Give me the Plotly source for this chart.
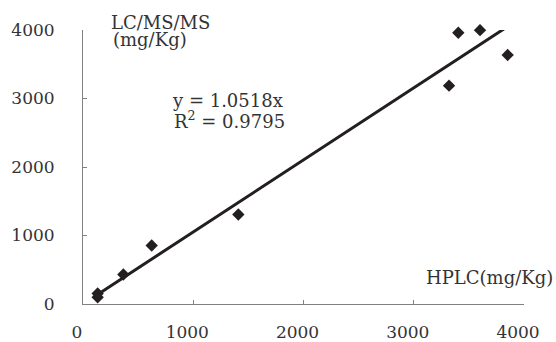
import plotly.graph_objects as go

# Data
hplc = [133, 133, 366, 623, 1409, 3320, 3404, 3601, 3852]
lcmsms = [99, 153, 431, 854, 1307, 3187, 3960, 3998, 3635]
slope = 1.0518
r2 = 0.9795
x_ticks = [0, 1000, 2000, 3000, 4000]
y_ticks = [0, 1000, 2000, 3000, 4000]

FONT = "DejaVu Serif"
DARK = "#231f20"
TXT = "#333333"

x_line = [min(hplc), max(hplc)]
y_line = [slope * v for v in x_line]

fig = go.Figure()
fig.add_trace(go.Scatter(x=x_line, y=y_line, mode="lines",
                         line=dict(color=DARK, width=3), hoverinfo="skip"))
fig.add_trace(go.Scatter(x=hplc, y=lcmsms, mode="markers", cliponaxis=False,
                         marker=dict(symbol="diamond", size=9.5, color=DARK)))

axis_common = dict(showgrid=False, zeroline=False, showline=True,
                   linecolor="#808080", linewidth=1, ticks="inside",
                   ticklen=4, tickcolor="#808080", automargin=False,
                   tickfont=dict(family=FONT, size=17, color=TXT))

fig.update_xaxes(range=[0, 4000], tickvals=x_ticks, ticklabelstandoff=13,
                 ticklabelshift=-6, **axis_common)
fig.update_yaxes(range=[0, 4000], tickvals=y_ticks, ticklabelstandoff=24,
                 **axis_common)

ann_font = dict(family=FONT, size=18, color=TXT)
annotations = [
    dict(text="LC/MS/MS", x=109, y=23, xanchor="left"),
    dict(text="(mg/Kg)", x=111, y=40, xanchor="left"),
    dict(text=f"y = {slope}x", x=170, y=100, xanchor="left"),
    dict(text=f"R<sup>2</sup> = {r2}", x=172, y=120, xanchor="left"),
    dict(text="HPLC(mg/Kg)", x=555, y=277, xanchor="right"),
]
W, H = 556, 342
L, R, T, B = 83, 32, 30, 38
pw, ph = W - L - R, H - T - B
for a in annotations:
    fig.add_annotation(text=a["text"], xref="paper", yref="paper",
                       x=(a["x"] - L) / pw, y=1 - (a["y"] - T) / ph,
                       xanchor=a["xanchor"], yanchor="middle",
                       showarrow=False, font=ann_font)

fig.update_layout(width=W, height=H, margin=dict(l=L, r=R, t=T, b=B),
                  plot_bgcolor="white", paper_bgcolor="white",
                  showlegend=False)

fig.write_html("out.html")
